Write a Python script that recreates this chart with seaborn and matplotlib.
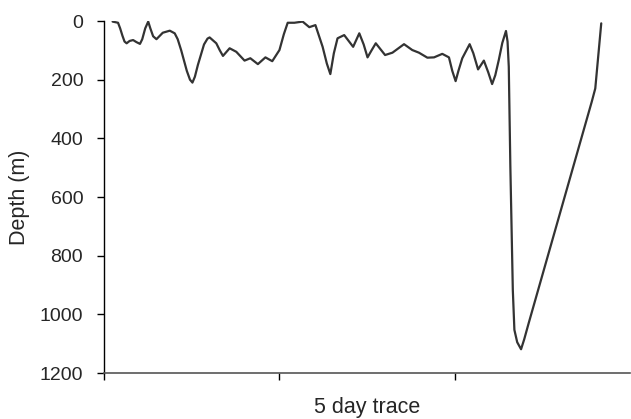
import matplotlib
matplotlib.use("Agg")
import matplotlib.pyplot as plt
import seaborn as sns
import pandas as pd

# 5-day trace readings (x in tick units, depth in m)
time_pos = [0.049, 0.080, 0.092, 0.105, 0.117, 0.129, 0.146, 0.166, 0.185, 0.205,
            0.218, 0.235, 0.252, 0.264, 0.280, 0.299, 0.335, 0.375, 0.403, 0.420,
            0.440, 0.472, 0.490, 0.504, 0.518, 0.535, 0.570, 0.590, 0.602, 0.640,
            0.660, 0.678, 0.716, 0.754, 0.801, 0.834, 0.877, 0.920, 0.959, 1.000,
            1.025, 1.047, 1.085, 1.132, 1.170, 1.205, 1.246, 1.270, 1.290, 1.310,
            1.331, 1.369, 1.420, 1.455, 1.480, 1.502, 1.525, 1.549, 1.602, 1.644,
            1.710, 1.757, 1.795, 1.843, 1.881, 1.928, 1.966, 1.985, 2.004, 2.020,
            2.042, 2.084, 2.105, 2.132, 2.165, 2.190, 2.212, 2.230, 2.250, 2.270,
            2.291, 2.300, 2.307, 2.316, 2.330, 2.339, 2.355, 2.377, 2.395, 2.420,
            2.780, 2.800, 2.834]
depth_m = [2, 6, 25, 50, 70, 76, 68, 65, 72, 78,
           62, 25, 2, 25, 52, 62, 40, 33, 42, 62,
           100, 170, 200, 210, 190, 150, 80, 60, 56, 76,
           100, 119, 93, 105, 135, 127, 147, 124, 137, 99,
           45, 6, 6, 2, 21, 14, 88, 145, 181, 110,
           59, 48, 88, 42, 80, 124, 100, 76, 116, 108,
           79, 99, 108, 125, 124, 112, 124, 170, 205, 170,
           127, 79, 110, 165, 135, 175, 215, 185, 133, 75,
           34, 70, 156, 497, 917, 1053, 1095, 1119, 1085, 1031,
           275, 230, 8]
y_ticks = [0, 200, 400, 600, 800, 1000, 1200]

df = pd.DataFrame({"t": time_pos, "depth": depth_m})

sns.set_style("white")
plt.rcParams["font.family"] = ["Liberation Sans", "DejaVu Sans"]

fig = plt.figure(figsize=(6.31, 4.19), dpi=100)
ax = fig.add_axes([104 / 631, 1 - 373 / 419, 1 - 104 / 631 - 0.001, (373 - 21) / 419])

sns.lineplot(data=df, x="t", y="depth", ax=ax, color="#333333", linewidth=1.6,
             sort=False, estimator=None)

ax.set_xlim(0, 3)
ax.set_ylim(1200, 0)
ax.set_xticks([0, 1, 2])
ax.set_xticklabels([])
ax.set_yticks(y_ticks)
ax.set_yticklabels([str(v) for v in y_ticks], fontsize=14)
ax.tick_params(axis="both", direction="out", length=5, width=1, color="black",
               bottom=True, left=True)
ax.tick_params(axis="y", pad=10)
ax.set_xlabel("5 day trace", fontsize=15.5, labelpad=9)
ax.set_ylabel("Depth (m)", fontsize=15.5, labelpad=7)

for s in ["top", "right"]:
    ax.spines[s].set_visible(False)
ax.spines["left"].set_color("black")
ax.spines["left"].set_linewidth(1)
ax.spines["bottom"].set_color("#555555")
ax.spines["bottom"].set_linewidth(1.2)

fig.savefig("out.png", dpi=100)
